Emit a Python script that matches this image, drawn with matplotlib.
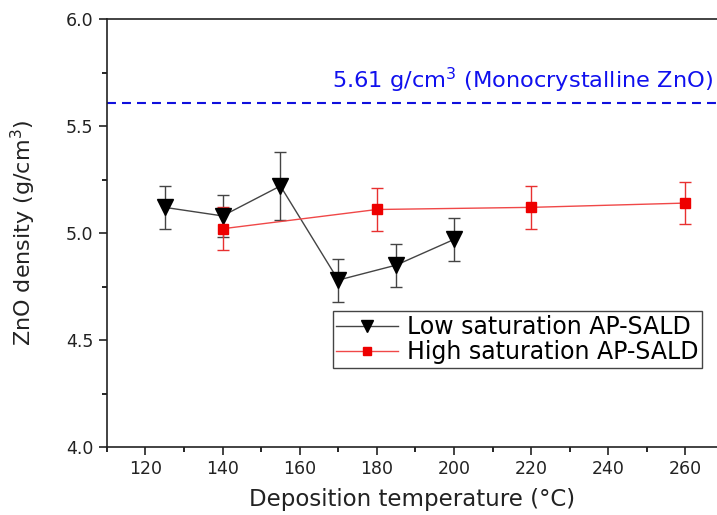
import matplotlib.pyplot as plt
from matplotlib.ticker import MultipleLocator

plt.rcParams['font.family'] = ['DejaVu Sans']

## data
low_T = [125, 140, 155, 170, 185, 200]
low_rho = [5.12, 5.08, 5.22, 4.78, 4.85, 4.97]
low_err = [0.10, 0.10, 0.16, 0.10, 0.10, 0.10]

high_T = [140, 180, 220, 260]
high_rho = [5.02, 5.11, 5.12, 5.14]
high_err = [0.10, 0.10, 0.10, 0.10]

mono_rho = 5.61

fig = plt.figure(figsize=(7.17, 5.15), dpi=100)
ax = fig.add_axes([0.149, 0.132, 0.851, 0.831])

# error bars first, lines + markers on top (labels only on the lines so
# the legend has no whiskers)
ax.errorbar(low_T, low_rho, yerr=low_err, fmt='none', ecolor='#444444',
            elinewidth=1.0, capsize=4.5, capthick=1.0, zorder=2)
ax.errorbar(high_T, high_rho, yerr=high_err, fmt='none', ecolor='#e83030',
            elinewidth=1.0, capsize=4.5, capthick=1.0, zorder=2)
ax.plot(low_T, low_rho, color='#444444', lw=1.0, marker='v', ms=11,
        mfc='black', mec='black', label='Low saturation AP-SALD', zorder=3)
ax.plot(high_T, high_rho, color='#f04848', lw=1.0, marker='s', ms=7.5,
        mfc='#ee0000', mec='#ee0000', label='High saturation AP-SALD', zorder=3)

ax.axhline(mono_rho, color='#1010dd', lw=1.5, ls=(0, (4.3, 2.9)))
ax.text(267.1, mono_rho + 0.035, '5.61 g/cm$^3$ (Monocrystalline ZnO)',
        color='#1010ee', fontsize=16.2, ha='right', va='bottom')

ax.set_xlim(110, 268.2)
ax.set_ylim(4.0, 6.0)
ax.xaxis.set_major_locator(MultipleLocator(20))
ax.xaxis.set_minor_locator(MultipleLocator(10))
ax.yaxis.set_major_locator(MultipleLocator(0.5))
ax.yaxis.set_minor_locator(MultipleLocator(0.25))
ax.yaxis.set_major_formatter(plt.FormatStrFormatter('%.1f'))

ax.tick_params(which='major', direction='out', length=6, width=1.2, labelsize=12.5, colors='#222222')
ax.tick_params(which='minor', direction='out', length=3.5, width=1.2)
ax.spines['right'].set_visible(False)
for s in ['left', 'bottom', 'top']:
    ax.spines[s].set_linewidth(1.2)
    ax.spines[s].set_color('#222222')

ax.set_xlabel('Deposition temperature (°C)', fontsize=16.5, color='#222222', labelpad=7)
ax.set_ylabel('ZnO density (g/cm$^3$)', fontsize=16, color='#222222', labelpad=20)

leg = ax.legend(loc='upper left', bbox_to_anchor=(0.370, 0.317), fontsize=17,
                frameon=True, fancybox=False, edgecolor='#444444', framealpha=1,
                handlelength=2.6, borderpad=0.15, labelspacing=0.05,
                handletextpad=0.4, borderaxespad=0, markerscale=0.75)
leg.get_frame().set_linewidth(1.0)

plt.savefig('out.png', dpi=100)
